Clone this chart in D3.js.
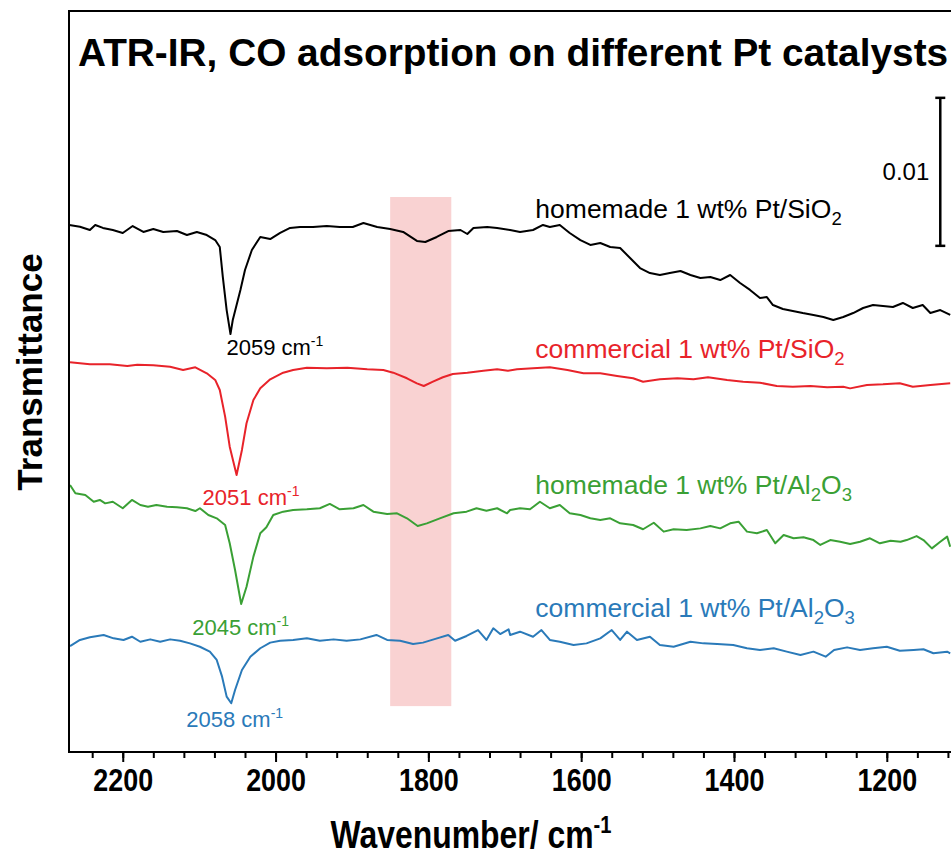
<!DOCTYPE html>
<html>
<head>
<meta charset="utf-8">
<script src="https://cdn.jsdelivr.net/npm/d3@7/dist/d3.min.js"></script>
<style>
  html, body { margin: 0; padding: 0; background: #fff; }
  svg { display: block; }
</style>
</head>
<body>
<svg id="chart" width="951" height="857"></svg>
<script>
// ATR-IR spectra of adsorbed CO. Each point: [wavenumber / cm-1, transmittance in units of 0.01, offset per trace]
const homemadeSiO2 = [
  [2270,3.561],[2256,3.549],[2243,3.527],[2236,3.561],[2226,3.541],[2213,3.527],[2200,3.507],[2187,3.554],
  [2173,3.514],[2160,3.534],[2147,3.514],[2129,3.520],[2116,3.493],[2103,3.514],[2090,3.493],[2079,3.459],
  [2073,3.412],[2069,3.209],[2064,2.986],[2059,2.824],[2056,2.919],[2046,3.122],[2040,3.257],[2031,3.392],
  [2020,3.480],[2007,3.466],[1994,3.507],[1981,3.541],[1968,3.547],[1951,3.547],[1933,3.554],[1916,3.547],
  [1899,3.547],[1885,3.574],[1867,3.547],[1850,3.534],[1833,3.514],[1815,3.453],[1804,3.446],[1789,3.480],
  [1774,3.520],[1758,3.527],[1749,3.500],[1741,3.541],[1723,3.547],[1710,3.541],[1693,3.527],[1680,3.514],
  [1663,3.527],[1650,3.561],[1641,3.547],[1628,3.561],[1615,3.507],[1601,3.459],[1588,3.426],[1575,3.439],
  [1562,3.412],[1549,3.405],[1536,3.338],[1523,3.270],[1510,3.236],[1497,3.223],[1484,3.236],[1470,3.250],
  [1457,3.223],[1444,3.203],[1431,3.209],[1418,3.189],[1405,3.223],[1392,3.169],[1379,3.122],[1366,3.068],
  [1357,3.074],[1349,3.020],[1336,2.993],[1323,2.980],[1310,2.966],[1296,2.953],[1283,2.939],[1270,2.919],
  [1257,2.939],[1244,2.966],[1231,3.000],[1218,3.020],[1205,3.014],[1192,3.007],[1179,3.034],[1166,3.000],
  [1153,3.020],[1143,2.966],[1130,2.986],[1117,2.953]
];
const commercialSiO2 = [
  [2269,2.633],[2243,2.620],[2217,2.620],[2194,2.608],[2181,2.617],[2160,2.613],[2138,2.603],[2121,2.581],
  [2105,2.599],[2090,2.559],[2079,2.514],[2073,2.446],[2066,2.266],[2060,2.063],[2051,1.872],[2044,2.041],
  [2038,2.221],[2029,2.378],[2020,2.457],[2007,2.518],[1990,2.563],[1977,2.581],[1959,2.597],[1933,2.593],
  [1906,2.597],[1880,2.586],[1859,2.581],[1846,2.563],[1828,2.525],[1815,2.491],[1806,2.473],[1794,2.502],
  [1781,2.532],[1768,2.554],[1749,2.563],[1728,2.576],[1710,2.586],[1696,2.576],[1684,2.586],[1663,2.593],
  [1641,2.599],[1618,2.581],[1597,2.559],[1575,2.559],[1553,2.541],[1532,2.525],[1519,2.502],[1497,2.518],
  [1474,2.525],[1453,2.518],[1434,2.532],[1409,2.514],[1388,2.502],[1366,2.495],[1344,2.473],[1323,2.468],
  [1300,2.473],[1278,2.464],[1257,2.468],[1248,2.457],[1226,2.480],[1205,2.484],[1183,2.491],[1166,2.468],
  [1143,2.480],[1117,2.491]
];
const homemadeAl2O3 = [
  [2269,1.804],[2262,1.748],[2249,1.736],[2238,1.691],[2230,1.703],[2223,1.680],[2213,1.691],[2200,1.647],
  [2188,1.703],[2177,1.669],[2167,1.657],[2156,1.669],[2142,1.657],[2129,1.653],[2116,1.647],[2105,1.628],
  [2099,1.647],[2088,1.601],[2077,1.579],[2066,1.534],[2060,1.410],[2053,1.230],[2045,1.000],[2038,1.117],
  [2029,1.320],[2020,1.478],[2012,1.518],[2003,1.601],[1990,1.624],[1977,1.635],[1959,1.640],[1942,1.647],
  [1929,1.676],[1916,1.640],[1898,1.647],[1885,1.669],[1872,1.624],[1854,1.608],[1841,1.613],[1828,1.579],
  [1814,1.527],[1802,1.545],[1785,1.579],[1767,1.613],[1750,1.624],[1737,1.647],[1724,1.630],[1710,1.647],
  [1697,1.613],[1693,1.635],[1680,1.647],[1667,1.640],[1654,1.691],[1641,1.647],[1628,1.669],[1615,1.613],
  [1601,1.601],[1588,1.579],[1575,1.568],[1562,1.579],[1549,1.545],[1532,1.534],[1519,1.505],[1505,1.549],
  [1492,1.489],[1479,1.505],[1462,1.500],[1444,1.511],[1431,1.527],[1418,1.511],[1405,1.545],[1394,1.556],
  [1383,1.489],[1370,1.478],[1357,1.500],[1346,1.410],[1335,1.466],[1322,1.444],[1309,1.451],[1296,1.432],
  [1287,1.399],[1274,1.432],[1261,1.421],[1248,1.405],[1235,1.421],[1222,1.444],[1209,1.410],[1195,1.428],
  [1182,1.421],[1174,1.432],[1161,1.459],[1152,1.432],[1141,1.376],[1130,1.421],[1121,1.455],[1117,1.387]
];
const commercialAl2O3 = [
  [2269,0.716],[2256,0.757],[2243,0.775],[2225,0.791],[2212,0.768],[2199,0.757],[2188,0.779],[2177,0.745],
  [2164,0.761],[2151,0.745],[2138,0.761],[2125,0.752],[2112,0.734],[2099,0.711],[2086,0.678],[2077,0.622],
  [2070,0.509],[2064,0.374],[2058,0.329],[2053,0.419],[2044,0.554],[2033,0.644],[2020,0.701],[2007,0.739],
  [1994,0.752],[1977,0.757],[1959,0.768],[1942,0.752],[1924,0.761],[1907,0.752],[1889,0.761],[1868,0.791],
  [1854,0.757],[1837,0.752],[1820,0.730],[1807,0.739],[1793,0.761],[1774,0.791],[1765,0.752],[1750,0.784],
  [1735,0.824],[1724,0.757],[1715,0.836],[1706,0.797],[1695,0.829],[1693,0.791],[1680,0.813],[1663,0.779],
  [1652,0.824],[1641,0.757],[1628,0.745],[1610,0.723],[1593,0.734],[1575,0.768],[1560,0.824],[1549,0.757],
  [1540,0.813],[1527,0.757],[1510,0.779],[1497,0.723],[1479,0.711],[1457,0.745],[1440,0.734],[1422,0.730],
  [1401,0.723],[1383,0.701],[1366,0.689],[1348,0.701],[1331,0.678],[1313,0.655],[1296,0.678],[1280,0.644],
  [1269,0.689],[1252,0.707],[1235,0.689],[1218,0.701],[1200,0.711],[1183,0.684],[1165,0.689],[1152,0.694],
  [1139,0.667],[1121,0.678],[1117,0.667]
];

const seriesNames = ["homemade 1 wt% Pt/SiO2", "commercial 1 wt% Pt/SiO2", "homemade 1 wt% Pt/Al2O3", "commercial 1 wt% Pt/Al2O3"];
const seriesData = [homemadeSiO2, commercialSiO2, homemadeAl2O3, commercialAl2O3];
const peakPositions = [2059, 2051, 2045, 2058];   // cm-1, band minimum of each trace
const xTickValues = [2200, 2000, 1800, 1600, 1400, 1200];
const xMinorTicks = d3.range(2240, 1100, -40);
const bridgedBand = [1850, 1770];                 // highlighted region, cm-1
const scaleBarLabel = "0.01";

// ---- styling ----
const colors = ["#000000", "#e8232a", "#3aa035", "#2a7ab9"];
const plot = { left: 69, top: 11, bottom: 752, right: 963 };
const sans = "'Liberation Sans', Arial, sans-serif";
const condense = 0.84;   // horizontal squeeze for the narrow bold axis lettering

const svg = d3.select("#chart");

const x = d3.scaleLinear().domain([2271, 1100]).range([68.5, 963.2]);
const y = d3.scaleLinear().domain([0, 5]).range([752, 12]);   // 1 unit = 0.01 transmittance

svg.append("defs").append("clipPath").attr("id", "plotClip")
  .append("rect").attr("x", plot.left).attr("y", plot.top)
  .attr("width", plot.right - plot.left).attr("height", plot.bottom - plot.top);

// highlighted band
svg.append("rect")
  .attr("x", x(bridgedBand[0]))
  .attr("width", x(bridgedBand[1]) - x(bridgedBand[0]))
  .attr("y", y(3.75))
  .attr("height", y(0.31) - y(3.75))
  .attr("fill", "#f9d2d2");

// spectra
const line = d3.line().x(d => x(d[0])).y(d => y(d[1]));
const traces = svg.append("g").attr("clip-path", "url(#plotClip)");
seriesData.forEach((data, i) => {
  traces.append("path")
    .datum(data)
    .attr("d", line)
    .attr("fill", "none")
    .attr("stroke", colors[i])
    .attr("stroke-width", 2)
    .attr("stroke-linejoin", "round");
});

// frame
svg.append("path")
  .attr("d", `M${plot.right},${plot.top}H${plot.left}V${plot.bottom}H${plot.right}`)
  .attr("fill", "none").attr("stroke", "#000").attr("stroke-width", 2);

// x axis
const minorAxis = svg.append("g").attr("transform", `translate(0,${plot.bottom})`)
  .call(d3.axisBottom(x).tickValues(xMinorTicks).tickSize(6).tickFormat(""));
const majorAxis = svg.append("g").attr("transform", `translate(0,${plot.bottom})`)
  .call(d3.axisBottom(x).tickValues(xTickValues).tickSize(10).tickPadding(6).tickFormat(d3.format("d")));
[minorAxis, majorAxis].forEach(g => {
  g.select(".domain").remove();
  g.selectAll(".tick line").attr("stroke", "#000").attr("stroke-width", 2);
});
majorAxis.selectAll(".tick text")
  .attr("font-family", sans).attr("font-weight", "bold").attr("font-size", 32).attr("fill", "#000")
  .attr("transform", `scale(${condense},1)`);

// axis titles
const xTitle = svg.append("g").attr("transform", `translate(471,848) scale(${condense},1)`)
  .append("text")
  .attr("text-anchor", "middle")
  .attr("font-family", sans).attr("font-weight", "bold").attr("font-size", 38);
xTitle.append("tspan").text("Wavenumber/ cm");
xTitle.append("tspan").attr("dy", -15).attr("font-size", 24).text("-1");

svg.append("text")
  .attr("transform", "translate(42,372) rotate(-90)")
  .attr("text-anchor", "middle")
  .attr("font-family", sans)
  .attr("font-weight", "bold").attr("font-size", 35)
  .text("Transmittance");

// title
svg.append("text")
  .attr("x", 78).attr("y", 66)
  .attr("font-family", sans)
  .attr("font-weight", "bold").attr("font-size", 38.8)
  .text("ATR-IR, CO adsorption on different Pt catalysts");

// trace labels with chemical subscripts
const labelY = [218, 358, 494, 617];
function chemLabel(sel, name) {
  const parts = name.split(/(\d)(?=O|$)/).filter(p => p !== "");
  let lowered = false;
  parts.forEach(p => {
    if (/^\d$/.test(p)) {
      sel.append("tspan").attr("dy", lowered ? 0 : 7).attr("font-size", "0.7em").text(p);
      lowered = true;
    } else {
      const t = sel.append("tspan").text(p);
      if (lowered) { t.attr("dy", -7); lowered = false; }
    }
  });
}
seriesNames.forEach((name, i) => {
  const t = svg.append("text")
    .attr("x", x(1660)).attr("y", labelY[i])
    .attr("font-family", sans).attr("font-size", 26.5)
    .attr("fill", colors[i]);
  chemLabel(t, name);
});

// peak position labels
const peakLabelShift = [[-4, 21], [-34, 30], [-49, 31], [-45, 24]];
seriesData.forEach((data, i) => {
  const minPt = data.find(d => d[0] === peakPositions[i]);
  const t = svg.append("text")
    .attr("x", x(peakPositions[i]) + peakLabelShift[i][0])
    .attr("y", y(minPt[1]) + peakLabelShift[i][1])
    .attr("font-family", sans).attr("font-size", 22)
    .attr("fill", colors[i]);
  t.append("tspan").text(peakPositions[i] + " cm");
  t.append("tspan").attr("dy", -9).attr("font-size", 14).text("-1");
});

// 0.01 transmittance scale bar
const barX = x(1130), barTop = 4.42, barBottom = barTop - 1;
const bar = svg.append("g").attr("stroke", "#000").attr("stroke-width", 2.5);
bar.append("line").attr("x1", barX).attr("x2", barX).attr("y1", y(barTop)).attr("y2", y(barBottom));
bar.append("line").attr("x1", barX - 5).attr("x2", barX + 5).attr("y1", y(barTop)).attr("y2", y(barTop));
bar.append("line").attr("x1", barX - 5).attr("x2", barX + 5).attr("y1", y(barBottom)).attr("y2", y(barBottom));
svg.append("text")
  .attr("x", barX - 11).attr("y", y((barTop + barBottom) / 2) + 8)
  .attr("text-anchor", "end")
  .attr("font-family", sans).attr("font-size", 24)
  .text(scaleBarLabel);
</script>
</body>
</html>
